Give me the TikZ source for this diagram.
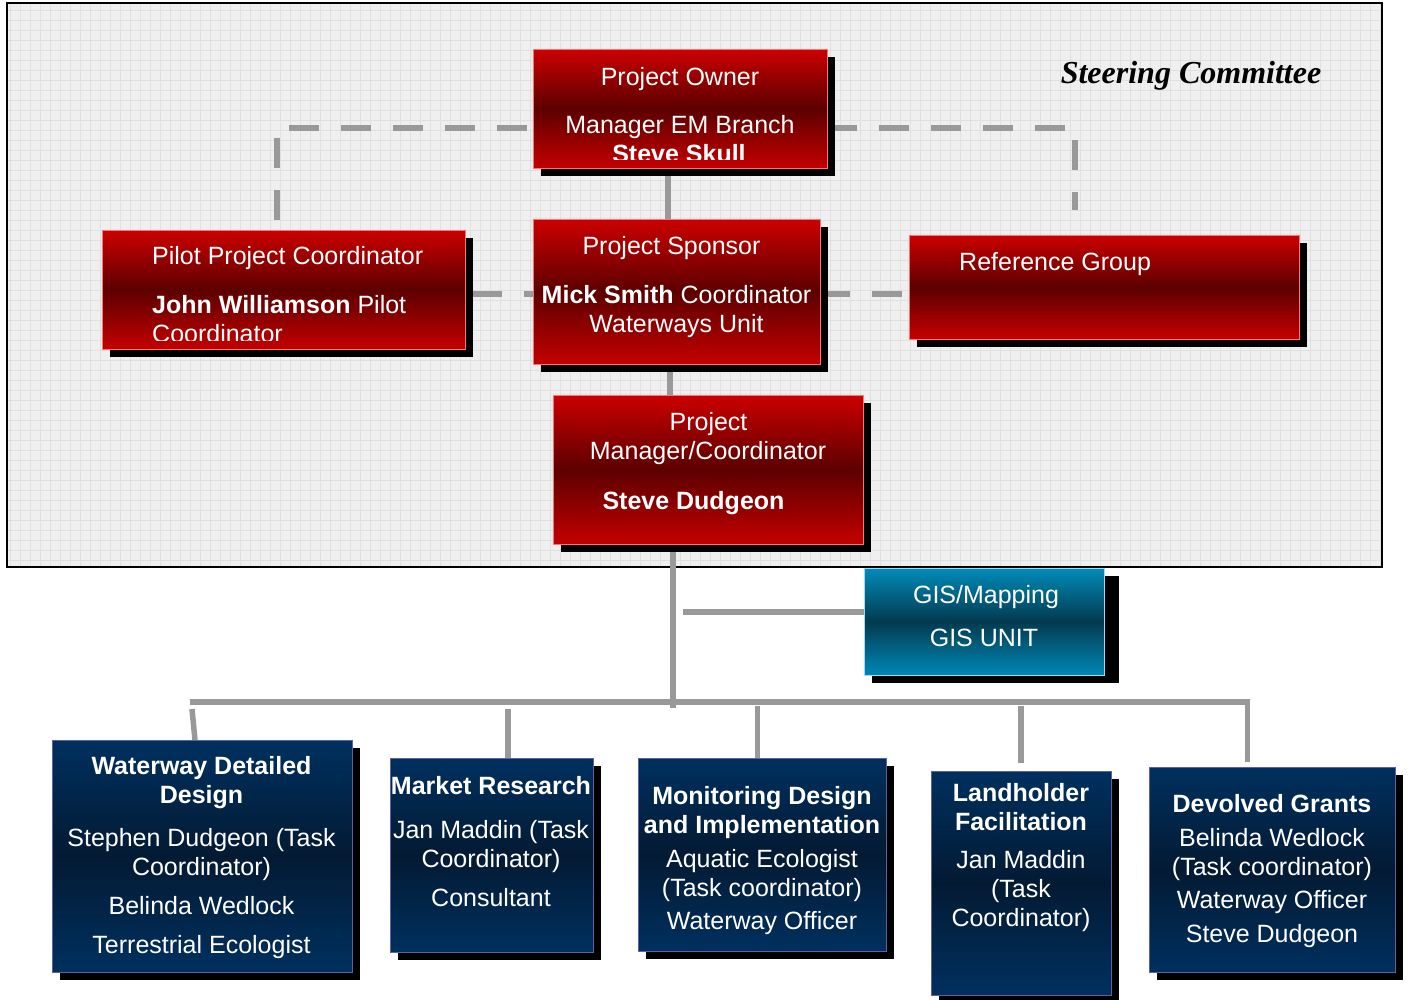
\documentclass[tikz,border=0pt]{standalone}
\usepackage{fontspec}
\setmainfont{Liberation Sans}
\newfontfamily\scriptfnt{Liberation Serif}
\usetikzlibrary{shadows,calc}
\definecolor{redtop}{HTML}{CC0000}
\definecolor{redmid}{HTML}{5C0000}
\definecolor{redbot}{HTML}{C40000}
\definecolor{navytop}{HTML}{00305F}
\definecolor{navymid}{HTML}{031A33}
\definecolor{gistop}{HTML}{008CBA}
\definecolor{gismid}{HTML}{033A50}
\definecolor{gisbot}{HTML}{0088B5}
\definecolor{bgfill}{HTML}{EFEFEF}
\definecolor{gridc}{HTML}{E0E0E0}
\definecolor{connc}{HTML}{999999}
\tikzset{
  box/.style={rectangle, inner sep=0pt, outer sep=0pt, line width=0.8pt,
    drop shadow={shadow xshift=8pt, shadow yshift=-8pt, opacity=1, fill=black}},
  redbox/.style={box, draw=red!55!white, top color=redtop, bottom color=redbot, middle color=redmid},
  navybox/.style={box, draw=blue!25!gray, top color=navytop, bottom color=navytop, middle color=navymid},
  gisbox/.style={box, draw=cyan!40!white, top color=gistop, bottom color=gisbot, middle color=gismid,
    drop shadow={shadow xshift=15pt, shadow yshift=-8pt, opacity=1, fill=black}},
  conn/.style={draw=connc, line width=5.5pt},
  dconn/.style={draw=connc, line width=6pt, dash pattern=on 30pt off 22pt},
  txt/.style={text=white, anchor=base, inner sep=0pt, font=\fontsize{25}{29}\selectfont},
  txtl/.style={txt, anchor=base west},
}
\newcommand\tl[4]{\node[txt] (#1) at (#2,#3) {#4};}
\begin{document}
\begin{tikzpicture}[x=1pt,y=-1pt]
\useasboundingbox (0,0) rectangle (1411,999);
% steering committee frame
\fill[bgfill] (7,3) rectangle (1382,567);
\draw[gridc, line width=0.6pt, step=10pt] (7,3) grid (1382,567);
\draw[black, line width=2pt] (7,3) rectangle (1382,567);
\node[anchor=base, inner sep=0pt, font=\scriptfnt\bfseries\itshape\fontsize{32}{36}\selectfont] (steer) at (1191,83) {Steering Committee};

\path
  (680,108.5) coordinate (c-owner)
  (283.5,289.5) coordinate (c-pilot)
  (676.5,291.5) coordinate (c-sponsor)
  (1104,287) coordinate (c-refg)
  (708,469.5) coordinate (c-pm)
  (984,621.5) coordinate (c-gis)
  (202,856) coordinate (c-wdd)
  (491.5,855) coordinate (c-mr)
  (762,854.5) coordinate (c-mdi)
  (1021,883) coordinate (c-lf)
  (1272,869.5) coordinate (c-dg);

% phantom nodes for connector anchoring
\node[minimum width=294pt, minimum height=119pt, inner sep=0pt, outer sep=0pt] (owner) at (c-owner) {};
\node[minimum width=363pt, minimum height=119pt, inner sep=0pt, outer sep=0pt] (pilot) at (c-pilot) {};
\node[minimum width=287pt, minimum height=145pt, inner sep=0pt, outer sep=0pt] (sponsor) at (c-sponsor) {};
\node[minimum width=390pt, minimum height=104pt, inner sep=0pt, outer sep=0pt] (refg) at (c-refg) {};
\node[minimum width=310pt, minimum height=149pt, inner sep=0pt, outer sep=0pt] (pm) at (c-pm) {};
\node[minimum width=240pt, minimum height=107pt, inner sep=0pt, outer sep=0pt] (gis) at (c-gis) {};
\node[minimum width=300pt, minimum height=232pt, inner sep=0pt, outer sep=0pt] (wdd) at (c-wdd) {};
\node[minimum width=203pt, minimum height=194pt, inner sep=0pt, outer sep=0pt] (mr) at (c-mr) {};
\node[minimum width=248pt, minimum height=193pt, inner sep=0pt, outer sep=0pt] (mdi) at (c-mdi) {};
\node[minimum width=180pt, minimum height=224pt, inner sep=0pt, outer sep=0pt] (lf) at (c-lf) {};
\node[minimum width=246pt, minimum height=205pt, inner sep=0pt, outer sep=0pt] (dg) at (c-dg) {};

% dashed connectors
\draw[dconn] ([xshift=-6.5pt,yshift=10pt]pilot.north) |- ([yshift=-19.5pt]owner.west);
\draw[dconn] ([yshift=-19.5pt]owner.east) -| ([xshift=-29pt,yshift=25pt]refg.north);
\coordinate (dl) at ([yshift=-4.5pt]pilot.east);
\draw[dconn, dash phase=-7pt] (dl) -- (dl -| sponsor.west);
\draw[dconn] (dl -| sponsor.east) -- (dl -| refg.west);

% solid connectors
\draw[conn] ([xshift=-12pt]owner.south) -- ([xshift=-8.5pt]sponsor.north);
\draw[conn] ([xshift=-6.5pt]sponsor.south) -- ([xshift=-38pt]pm.north);
\coordinate (trunkend) at (673,708);
\draw[conn] ([xshift=-35pt]pm.south) -- (trunkend);
\coordinate (gisl) at (683,612);
\draw[conn] (gisl) -- (gisl -| gis.west);
\coordinate (busl) at (190,702);
\coordinate (busr) at (1247.5,702);
\draw[conn] (busl) -- (busr) -- ([xshift=-24.5pt,yshift=5pt]dg.north);
\draw[conn] (192,709) -- ([xshift=-7pt]wdd.north);
\draw[conn] (508,709) -- ([xshift=16.5pt]mr.north);
\draw[conn] (757.5,706) -- ([xshift=-4.5pt]mdi.north);
\draw[conn] (1021,706) -- ([yshift=8pt]lf.north);

% boxes
\node[redbox, minimum width=294pt, minimum height=119pt] (b-owner) at (c-owner) {};
\node[redbox, minimum width=363pt, minimum height=119pt] (b-pilot) at (c-pilot) {};
\node[redbox, minimum width=287pt, minimum height=145pt] (b-sponsor) at (c-sponsor) {};
\node[redbox, minimum width=390pt, minimum height=104pt] (b-refg) at (c-refg) {};
\node[redbox, minimum width=310pt, minimum height=149pt] (b-pm) at (c-pm) {};
\node[gisbox, minimum width=240pt, minimum height=107pt] (b-gis) at (c-gis) {};
\node[navybox, minimum width=300pt, minimum height=232pt] (b-wdd) at (c-wdd) {};
\node[navybox, minimum width=203pt, minimum height=194pt] (b-mr) at (c-mr) {};
\node[navybox, minimum width=248pt, minimum height=193pt] (b-mdi) at (c-mdi) {};
\node[navybox, minimum width=180pt, minimum height=224pt] (b-lf) at (c-lf) {};
\node[navybox, minimum width=246pt, minimum height=205pt] (b-dg) at (c-dg) {};

% texts
\tl{o1}{680}{85}{Project Owner}
\tl{o2}{680}{133}{Manager EM Branch}
\begin{scope}
\clip (533,49) rectangle (827,159);
\tl{o3}{679}{162}{\bfseries Steve Skull}
\end{scope}

\node[txtl] (p1) at (152,264) {Pilot Project Coordinator};
\node[txtl] (p2) at (152,313) {\bfseries John Williamson\mdseries{} Pilot};
\begin{scope}
\clip (102,230) rectangle (465,340);
\node[txtl] (p3) at (152,342) {Coordinator};
\end{scope}

\tl{s1}{671.5}{254}{Project Sponsor}
\tl{s2}{676.5}{303}{\bfseries Mick Smith\mdseries{} Coordinator}
\tl{s3}{676.5}{332}{Waterways Unit}

\node[txtl] (r1) at (959,270) {Reference Group};

\tl{m1}{708.5}{430}{Project}
\tl{m2}{708}{459}{Manager/Coordinator}
\tl{m3}{693.5}{509}{\bfseries Steve Dudgeon}

\tl{g1}{986}{603}{GIS/Mapping}
\tl{g2}{984}{646}{GIS UNIT}

\tl{w1}{201.5}{774}{\bfseries Waterway Detailed}
\tl{w2}{201.5}{803}{\bfseries Design}
\tl{w3}{201.5}{846}{Stephen Dudgeon (Task}
\tl{w4}{201.5}{875}{Coordinator)}
\tl{w5}{201.5}{914}{Belinda Wedlock}
\tl{w6}{201.5}{953}{Terrestrial Ecologist}

\tl{k1}{491}{794}{\bfseries Market Research}
\tl{k2}{491}{838}{Jan Maddin (Task}
\tl{k3}{491}{867}{Coordinator)}
\tl{k4}{491}{906}{Consultant}

\tl{d1}{762}{804}{\bfseries Monitoring Design}
\tl{d2}{762}{833}{\bfseries and Implementation}
\tl{d3}{762}{867}{Aquatic Ecologist}
\tl{d4}{762}{896}{(Task coordinator)}
\tl{d5}{762}{929}{Waterway Officer}

\tl{l1}{1021}{801}{\bfseries Landholder}
\tl{l2}{1021}{830}{\bfseries Facilitation}
\tl{l3}{1021}{868}{Jan Maddin}
\tl{l4}{1021}{897}{(Task}
\tl{l5}{1021}{926}{Coordinator)}

\tl{v1}{1272}{812}{\bfseries Devolved Grants}
\tl{v2}{1272}{846}{Belinda Wedlock}
\tl{v3}{1272}{875}{(Task coordinator)}
\tl{v4}{1272}{908}{Waterway Officer}
\tl{v5}{1272}{942}{Steve Dudgeon}
\end{tikzpicture}
\end{document}
